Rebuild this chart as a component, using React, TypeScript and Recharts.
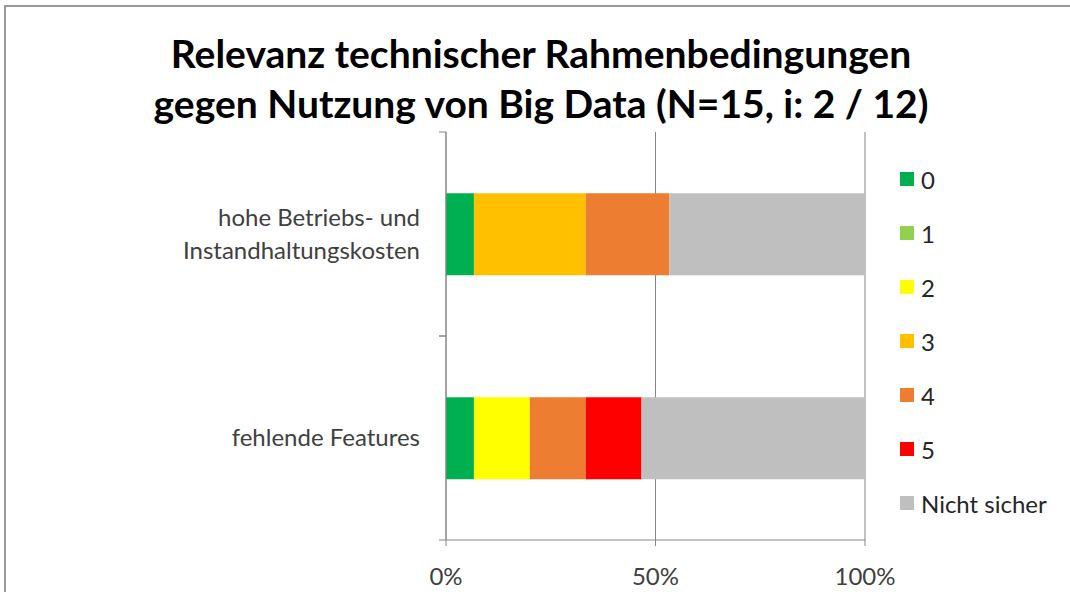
import React from "react";
import { Bar, BarChart, CartesianGrid, XAxis, YAxis } from "recharts";

const categories = ["hohe Betriebs- und\nInstandhaltungskosten", "fehlende Features"];
const levels = ["0", "1", "2", "3", "4", "5", "Nicht sicher"];
const colors = ["#00B050", "#92D050", "#FFFF00", "#FFC000", "#ED7D31", "#FF0000", "#BFBFBF"];
// answer counts per category (N=15)
const counts = [
  [1, 0, 0, 4, 3, 0, 7],
  [1, 0, 2, 0, 2, 2, 8],
];
const xTicks = [0, 0.5, 1];

const data = categories.map((name, i) => {
  const row: Record<string, string | number> = { name };
  levels.forEach((lv, j) => (row[lv] = counts[i][j]));
  return row;
});

const FONT = "Lato, 'Open Sans', sans-serif";
const W = 1070;
const H = 592;
const M = { top: 132, right: 205, left: 0, bottom: 0 };
const X_AXIS_H = 52;
const BAND = (H - M.top - X_AXIS_H) / categories.length;

function CategoryTick(props: any) {
  const { x, y, payload } = props;
  const lines = String(payload.value).split("\n");
  const lh = 33;
  const y0 = y - ((lines.length - 1) * lh) / 2 + 8;
  const ax = x + 8; // axis line position
  return (
    <g>
      <line x1={ax - 7} x2={ax} y1={y - BAND / 2} y2={y - BAND / 2} stroke="#868686" />
      <line x1={ax - 7} x2={ax} y1={y + BAND / 2} y2={y + BAND / 2} stroke="#868686" />
      <text x={x - 18} y={y0} textAnchor="end" fontSize={24} fill="#404040" fontFamily={FONT}>
        {lines.map((l, i) => (
          <tspan key={i} x={x - 18} y={y0 + i * lh}>
            {l}
          </tspan>
        ))}
      </text>
    </g>
  );
}

export default function App() {
  return (
    <div style={{ position: "absolute", left: 0, top: 0, width: W, height: H, background: "#fff", overflow: "hidden" }}>
      <div style={{ position: "absolute", left: 4, top: 5, width: 1100, height: 700, borderLeft: "2px solid #9a9a9a", borderTop: "2px solid #9a9a9a" }} />
      <div
        style={{
          position: "absolute",
          left: 0,
          top: 28,
          width: 1082,
          textAlign: "center",
          fontFamily: FONT,
          fontWeight: 700,
          fontSize: 39,
          lineHeight: "50px",
          color: "#000",
        }}
      >
        Relevanz technischer Rahmenbedingungen
        <br />
        gegen Nutzung von Big Data (N=15, i: 2 / 12)
      </div>
      <div style={{ position: "absolute", left: 900, top: 152, fontFamily: FONT, fontSize: 24, color: "#262626" }}>
        {levels.map((lv, i) => (
          <div key={lv} style={{ display: "flex", alignItems: "center", height: 54 }}>
            <span style={{ width: 14, height: 14, background: colors[i], marginRight: 7, display: "inline-block" }} />
            {lv}
          </div>
        ))}
      </div>
      <BarChart
        width={W}
        height={H}
        data={data}
        layout="vertical"
        stackOffset="expand"
        barCategoryGap="30%"
        margin={M}
        style={{ position: "absolute", left: 0, top: 0 }}
      >
        <CartesianGrid horizontal={false} vertical={true} stroke="#868686" />
        <XAxis
          type="number"
          domain={[0, 1]}
          ticks={xTicks}
          tickFormatter={(v) => `${Math.round(v * 100)}%`}
          height={X_AXIS_H}
          stroke="#868686"
          tickSize={6}
          tick={{ fontSize: 24, fill: "#404040", fontFamily: FONT }}
          tickMargin={22}
        />
        <YAxis type="category" dataKey="name" width={446} stroke="#868686" tickLine={false} tick={<CategoryTick />} interval={0} />
        {levels.map((lv, i) => (
          <Bar key={lv} dataKey={lv} stackId="a" fill={colors[i]} isAnimationActive={false} />
        ))}
      </BarChart>
    </div>
  );
}
